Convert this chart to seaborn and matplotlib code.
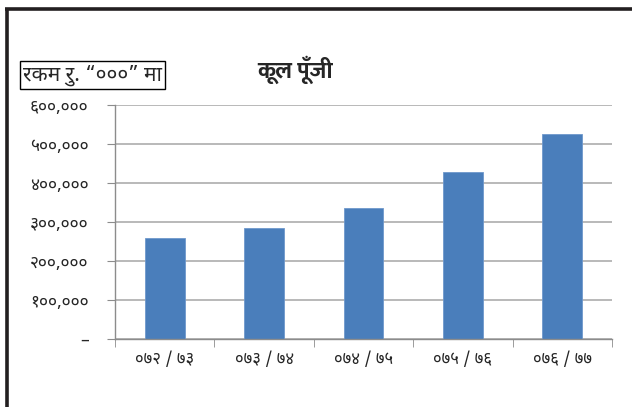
import matplotlib
matplotlib.use("Agg")
import pandas as pd
import seaborn as sns
import matplotlib.pyplot as plt
from matplotlib.lines import Line2D
from matplotlib.ticker import FixedLocator

# data
years = ["०७२ / ७३", "०७३ / ७४", "०७४ / ७५", "०७५ / ७६", "०७६ / ७७"]
capital = [258000, 285000, 336000, 427000, 526000]
ytick_vals = [0, 100000, 200000, 300000, 400000, 500000, 600000]
ytick_labels = ["–", "१००,०००", "२००,०००", "३००,०००", "४००,०००", "५००,०००", "६००,०००"]

sns.set_style("white")
plt.rcParams['font.family'] = ['Noto Sans Devanagari', 'Mukta', 'DejaVu Sans']

df = pd.DataFrame({'Year': years, 'Capital': capital})

fig = plt.figure(figsize=(6.32, 4.07), dpi=100)
ax = fig.add_axes([115/632, 1-339/407, (612-115)/632, (339-105)/407])

sns.barplot(data=df, x='Year', y='Capital', color='#4a7ebb', width=0.4,
            saturation=1, ax=ax, edgecolor='#6f98cc', linewidth=0.6)

ax.set_ylim(0, 600000)
ax.set_xlim(-0.5, 4.5)
ax.set_yticks(ytick_vals)
ax.set_yticklabels(ytick_labels, fontsize=12.5)
ax.yaxis.grid(True, color='#a6a6a6', linewidth=1.1)
ax.set_axisbelow(True)
ax.set_xlabel('')
ax.set_ylabel('')
ax.tick_params(axis='x', which='major', length=0, pad=9, labelsize=12)
ax.xaxis.set_minor_locator(FixedLocator([-0.5, 0.5, 1.5, 2.5, 3.5, 4.5]))
ax.tick_params(axis='x', which='minor', length=6, color='#8c8c8c', direction='out', bottom=True)
ax.tick_params(axis='y', length=6, color='#8c8c8c', direction='out', left=True, pad=13)

for s in ['top', 'right']:
    ax.spines[s].set_visible(False)
for s in ['left', 'bottom']:
    ax.spines[s].set_color('#8c8c8c')
    ax.spines[s].set_linewidth(1)

# title and unit box
fig.text(295/632, 1-70/407, "कूल पूँजी", fontsize=17, fontweight='bold',
         family=['Mukta', 'Noto Sans Devanagari', 'DejaVu Sans'],
         ha='center', va='center')
fig.text(23/632, 1-75/407, "रकम रु. “०००” मा", fontsize=15, ha='left', va='center',
         bbox=dict(boxstyle='square,pad=0.15', facecolor='white', edgecolor='black', linewidth=1))

# frame lines (left and top)
fig.add_artist(Line2D([6.5/632, 6.5/632], [0, 1-8/407], transform=fig.transFigure,
                      color='#231f20', linewidth=2.6, solid_capstyle='butt'))
fig.add_artist(Line2D([5/632, 1], [1-9/407, 1-9/407], transform=fig.transFigure,
                      color='#231f20', linewidth=2.6, solid_capstyle='butt'))

fig.savefig("out.png", dpi=100)
